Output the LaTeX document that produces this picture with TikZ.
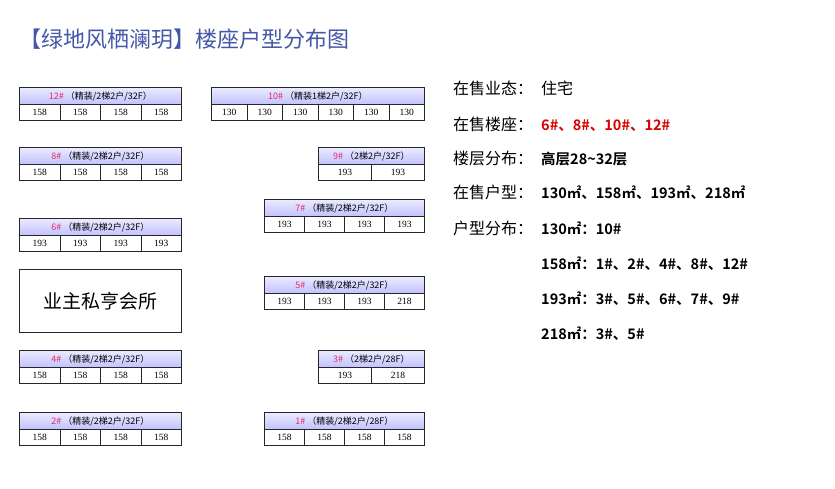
\documentclass[tikz,border=0pt]{standalone}
\usepackage{fontspec}
\setmainfont{Liberation Serif}
\newfontfamily\cjk{Noto Sans CJK SC}
\newfontfamily\cjkb{Noto Sans CJK SC Bold}
\begin{document}
\begin{tikzpicture}[x=1pt,y=-1pt,
  hdr/.style={draw=black!85,line width=0.9pt,top color=blue!8,bottom color=blue!24,inner sep=0pt,anchor=north west,font=\cjk\fontsize{9}{10}\selectfont},
  cell/.style={draw=black!85,line width=0.9pt,fill=white,inner sep=0pt,anchor=north west,font=\fontsize{9.5}{10}\selectfont},
  info/.style={anchor=base west,inner sep=0pt,font=\cjk\fontsize{16}{18}\selectfont},
  val/.style={anchor=base west,inner sep=0pt,font=\cjkb\fontsize{14.5}{18}\selectfont}]
\useasboundingbox[fill=white] (0,0) rectangle (835,488);
\definecolor{numred}{HTML}{E0306A}
\definecolor{ttl}{HTML}{4458A8}
\node[anchor=west,text=ttl,font=\cjk\fontsize{22}{24}\selectfont] (title) at (16,39) {【绿地风栖澜玥】楼座户型分布图};
\newcommand\blk[6]{%
  \node[hdr,minimum width=#3,minimum height=17] (#1) at (#2,#4) {\textcolor{numred}{#5}\ #6};}
\newcommand\row[5]{%
  \foreach \v [count=\i] in {#5} {\node[cell,minimum width=#3,minimum height=16] (#1c\i) at ({#2+(\i-1)*#3},#4) {\v};}}
\blk{b12}{19}{162}{87}{12\#}{（精装/2梯2户/32F）}\row{b12}{19}{40.5}{104}{158,158,158,158}
\blk{b10}{211}{213}{87}{10\#}{（精装1梯2户/32F）}\row{b10}{211}{35.5}{104}{130,130,130,130,130,130}
\blk{b8}{19}{162}{147}{8\#}{（精装/2梯2户/32F）}\row{b8}{19}{40.5}{164}{158,158,158,158}
\blk{b9}{318}{106}{147}{9\#}{（2梯2户/32F）}\row{b9}{318}{53}{164}{193,193}
\blk{b7}{264}{160}{199}{7\#}{（精装/2梯2户/32F）}\row{b7}{264}{40}{216}{193,193,193,193}
\blk{b6}{19}{162}{218}{6\#}{（精装/2梯2户/32F）}\row{b6}{19}{40.5}{235}{193,193,193,193}
\node[draw=black!85,line width=0.9pt,anchor=north west,minimum width=162,minimum height=63,inner sep=0pt,font=\cjk\fontsize{19}{21}\selectfont] (club) at (19,269) {业主私亨会所};
\blk{b5}{264}{160}{276}{5\#}{（精装/2梯2户/32F）}\row{b5}{264}{40}{293}{193,193,193,218}
\blk{b4}{19}{162}{350}{4\#}{（精装/2梯2户/32F）}\row{b4}{19}{40.5}{367}{158,158,158,158}
\blk{b3}{318}{106}{350}{3\#}{（2梯2户/28F）}\row{b3}{318}{53}{367}{193,218}
\blk{b2}{19}{162}{412}{2\#}{（精装/2梯2户/32F）}\row{b2}{19}{40.5}{429}{158,158,158,158}
\blk{b1}{264}{160}{412}{1\#}{（精装/2梯2户/28F）}\row{b1}{264}{40}{429}{158,158,158,158}
\node[info] (l1) at (453,94) {在售业态：};
\node[info] (v1) at (541,94) {住宅};
\node[info] (l2) at (453,130) {在售楼座：};
\node[val,text=red!85!black] (v2) at (541,130) {6\#、8\#、10\#、12\#};
\node[info] (l3) at (453,164) {楼层分布：};
\node[val] (v3) at (541,164) {高层28\textasciitilde32层};
\node[info] (l4) at (453,198) {在售户型：};
\node[val] (v4) at (541,198) {130㎡、158㎡、193㎡、218㎡};
\node[info] (l5) at (453,234) {户型分布：};
\node[val] (v5) at (541,234) {130㎡：10\#};
\node[val] (v6) at (541,269) {158㎡：1\#、2\#、4\#、8\#、12\#};
\node[val] (v7) at (541,304) {193㎡：3\#、5\#、6\#、7\#、9\#};
\node[val] (v8) at (541,339) {218㎡：3\#、5\#};
\end{tikzpicture}
\end{document}
